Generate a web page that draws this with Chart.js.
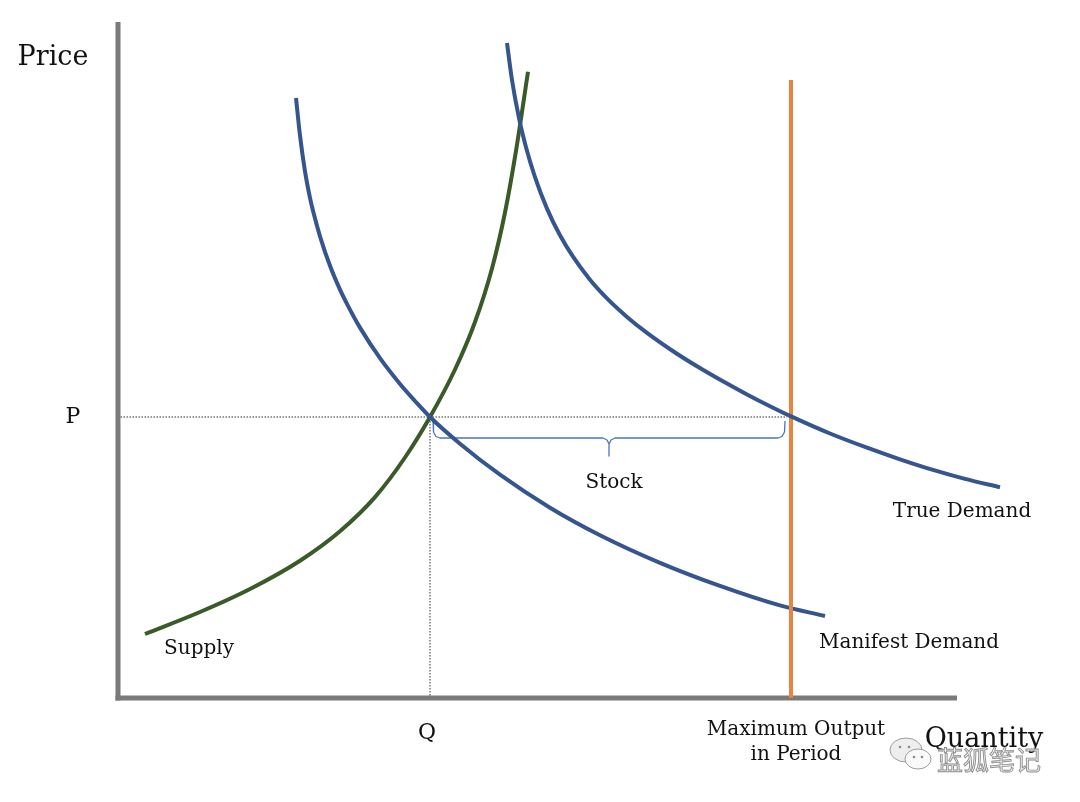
<!DOCTYPE html>
<html>
<head>
<meta charset="utf-8">
<script src="https://cdn.jsdelivr.net/npm/chart.js@4.4.1/dist/chart.umd.min.js"></script>
<style>
html,body{margin:0;padding:0;background:#fff;}
#wrap{width:1080px;height:802px;position:relative;}
</style>
</head>
<body>
<div id="wrap"><canvas id="c"></canvas></div>
<script>
// Values (quantity, price), origin at the axes' corner
const supplyQ   = [27, 82, 132, 182, 222, 257, 287, 312, 337, 357, 374, 387, 398, 410];
const supplyP   = [64, 86, 109, 137.3, 166.8, 200.9, 240.5, 281, 328.5, 376, 429.6, 485.5, 547.1, 626.3];
const manifestQ = [178, 182, 187, 192, 195, 202, 212, 222, 230, 242, 262, 282, 297, 312, 342, 382, 432, 482, 542, 602, 662, 707];
const manifestP = [600, 562.4, 526.6, 500.1, 487.2, 461.7, 432.2, 408.4, 392.2, 370.4, 339.8, 314, 297, 281, 254.3, 223.3, 190.3, 162.8, 135.2, 112.1, 92.6, 82];
const trueQ     = [389, 394, 401, 408, 417, 429, 442, 455, 472, 489, 509, 529, 554, 579, 604, 629, 652, 672, 712, 749, 782, 815, 847, 882];
const trueP     = [655, 618, 579.8, 550.8, 520.9, 489.4, 462.7, 441.3, 418.3, 399.6, 381.1, 365.1, 347.5, 331.7, 317.2, 303.6, 291.8, 282.1, 264.5, 250.3, 238.7, 228.1, 219.1, 210.7];
const eqQ = 312;          // Q
const eqP = 281;          // P
const maxOutputQ = 673;   // Maximum Output in Period
const maxOutputTop = 618;
const axisQMax = 839;
const axisPMax = 676;
const stockEndQ = 667;
// brace under the "Stock" interval
const braceQ = [315, 315.5, 318, 322, 485, 489, 491, 491, 491, 493, 497, 660, 664, 666.5, 667];
const braceP = [277, 266, 261.5, 260, 260, 258, 254, 242, 254, 258, 260, 260, 261.5, 266, 277];
const labels = {price:'Price', p:'P', q:'Q', quantity:'Quantity', supply:'Supply',
  manifest:'Manifest Demand', trueD:'True Demand', stock:'Stock',
  maxOut1:'Maximum Output', maxOut2:'in Period', watermark:'蓝狐笔记'};

const zip = (xs, ys) => xs.map((x, i) => ({x, y: ys[i]}));
const BLUE = '#35558f', GREEN = '#3a5a27', ORANGE = '#e8843f', AXIS = '#7a7a7a', DOT = '#333';
const FONT = '"DejaVu Serif", serif';

const textPlugin = {
  id: 'texts',
  afterDatasetsDraw(chart) {
    const ctx = chart.ctx, xs = chart.scales.x, ys = chart.scales.y;
    ctx.save();
    ctx.fillStyle = '#111';
    ctx.textAlign = 'center';
    ctx.textBaseline = 'alphabetic';
    const t = (s, x, y, size) => { ctx.font = size + 'px ' + FONT; ctx.fillText(s, x, y); };
    t(labels.price, 53, 65, 27);
    t(labels.p, 73, ys.getPixelForValue(eqP) + 6, 22);
    t(labels.q, xs.getPixelForValue(eqQ) - 3, 739, 22);
    t(labels.stock, 614, 488, 20);
    t(labels.supply, 199, 654, 20);
    t(labels.trueD, 962, 517, 20);
    t(labels.manifest, 909, 648, 20);
    t(labels.maxOut1, 796, 735, 20);
    t(labels.maxOut2, 796, 760, 20);
    t(labels.quantity, 984, 747, 27);
    // watermark
    ctx.strokeStyle = '#9c9c9c';
    ctx.lineWidth = 1;
    ctx.fillStyle = 'rgba(235,235,235,0.85)';
    ctx.beginPath(); ctx.ellipse(906, 750, 16, 12, 0, 0, Math.PI * 2); ctx.fill(); ctx.stroke();
    ctx.beginPath(); ctx.ellipse(918, 759, 13, 10, 0, 0, Math.PI * 2); ctx.fillStyle = 'rgba(250,250,250,0.95)'; ctx.fill(); ctx.stroke();
    ctx.fillStyle = '#8a8a8a';
    [[900,747],[909,747],[914,757],[922,757]].forEach(([a,b]) => { ctx.beginPath(); ctx.arc(a,b,1.3,0,Math.PI*2); ctx.fill(); });
    ctx.font = '26px "Noto Sans CJK SC", sans-serif';
    ctx.textAlign = 'left';
    ctx.fillStyle = 'rgba(240,240,240,0.85)';
    ctx.fillText(labels.watermark, 937, 770);
    ctx.lineWidth = 0.9;
    ctx.strokeStyle = '#8c8c8c';
    ctx.strokeText(labels.watermark, 937, 770);
    ctx.restore();
  }
};

const base = {showLine: true, pointRadius: 0, pointHoverRadius: 0, fill: false, tension: 0, clip: false};
const curve = {...base, borderWidth: 4, cubicInterpolationMode: 'monotone', borderCapStyle: 'butt'};

new Chart(document.getElementById('c'), {
  type: 'scatter',
  data: {
    datasets: [
      {...base, label: 'axisY', data: [{x:0,y:-2.5},{x:0,y:axisPMax}], borderColor: AXIS, borderWidth: 5, order: 10},
      {...base, label: 'axisX', data: [{x:-2.5,y:0},{x:axisQMax,y:0}], borderColor: AXIS, borderWidth: 5, order: 10},
      {...base, label: 'P', data: [{x:2.5,y:eqP},{x:stockEndQ+2,y:eqP}], borderColor: DOT, borderWidth: 1, borderDash: [1.5,1.5], order: 9},
      {...base, label: 'Q', data: [{x:eqQ,y:2.5},{x:eqQ,y:eqP}], borderColor: DOT, borderWidth: 1, borderDash: [1.5,1.5], order: 9},
      {...base, label: 'Stock', data: zip(braceQ, braceP), borderColor: '#4e73c2', borderWidth: 1.3, order: 8},
      {...curve, label: 'Supply', data: zip(supplyQ, supplyP), borderColor: GREEN, order: 6},
      {...curve, label: 'Manifest Demand', data: zip(manifestQ, manifestP), borderColor: BLUE, order: 5},
      {...base, label: 'Maximum Output', data: [{x:maxOutputQ,y:0},{x:maxOutputQ,y:maxOutputTop}], borderColor: ORANGE, borderWidth: 4, order: 4},
      {...curve, label: 'True Demand', data: zip(trueQ, trueP), borderColor: BLUE, order: 3}
    ]
  },
  options: {
    responsive: true,
    maintainAspectRatio: false,
    animation: false,
    layout: {padding: {left: 118, right: 20, top: 20, bottom: 104}},
    scales: {
      x: {type: 'linear', display: false, min: 0, max: 942},
      y: {type: 'linear', display: false, min: 0, max: 678}
    },
    plugins: {legend: {display: false}, tooltip: {enabled: false}},
    elements: {line: {borderJoinStyle: 'round'}}
  },
  plugins: [textPlugin]
});
</script>
</body>
</html>
